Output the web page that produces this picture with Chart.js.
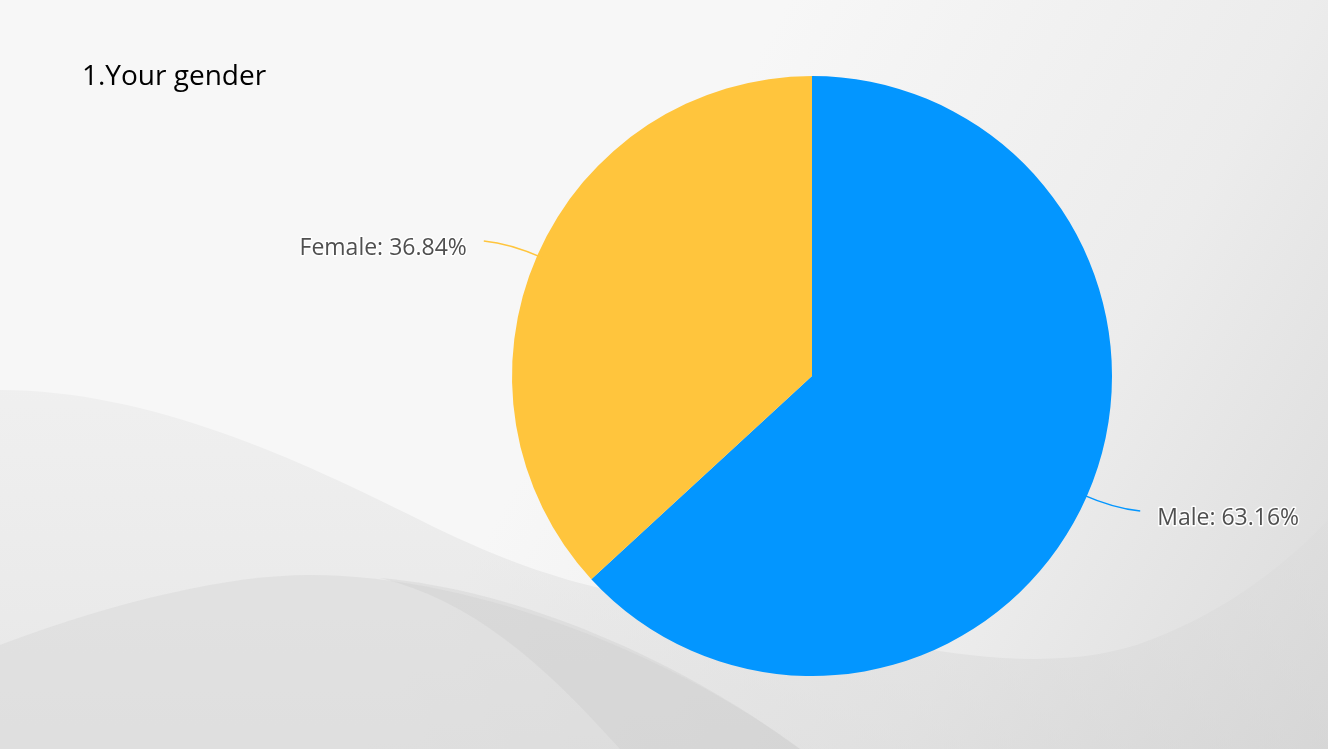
<!DOCTYPE html>
<html>
<head>
<meta charset="utf-8">
<script src="https://cdn.jsdelivr.net/npm/chart.js@4"></script>
<style>
  html, body { margin: 0; padding: 0; background: #f4f4f4; }
  #wrap { position: relative; width: 1328px; height: 749px; }
</style>
</head>
<body>
<div id="wrap"><canvas id="my_chart" width="1328" height="749"></canvas></div>
<script>
// Data
const categories = ['Male', 'Female'];
const counts = [12, 7];
const percentLabels = ['63.16%', '36.84%'];
const sliceColors = ['#0396ff', '#ffc53d'];
const chartTitle = '1.Your gender';

// Grey slide background with soft waves
const backgroundPlugin = {
  id: 'slideBackground',
  beforeDraw(chart) {
    const c = chart.ctx;
    const w = chart.width, h = chart.height;
    c.save();
    let g = c.createLinearGradient(0, 0, w, h);
    g.addColorStop(0, '#f7f7f7');
    g.addColorStop(0.45, '#f7f7f7');
    g.addColorStop(0.75, '#ececec');
    g.addColorStop(1, '#dadada');
    c.fillStyle = g;
    c.fillRect(0, 0, w, h);

    // lower wave
    c.beginPath();
    c.moveTo(0, 390);
    c.bezierCurveTo(150, 390, 300, 460, 420, 520);
    c.bezierCurveTo(560, 590, 640, 600, 760, 610);
    c.bezierCurveTo(900, 650, 1050, 680, 1150, 640);
    c.bezierCurveTo(1230, 610, 1290, 560, 1328, 520);
    c.lineTo(w, h);
    c.lineTo(0, h);
    c.closePath();
    g = c.createLinearGradient(0, 390, 0, h);
    g.addColorStop(0, 'rgba(225,225,225,0.35)');
    g.addColorStop(1, 'rgba(210,210,210,0.45)');
    c.fillStyle = g;
    c.fill();

    // bottom wave
    c.beginPath();
    c.moveTo(0, 645);
    c.bezierCurveTo(120, 600, 230, 575, 310, 575);
    c.bezierCurveTo(480, 575, 680, 660, 800, 749);
    c.lineTo(0, h);
    c.closePath();
    c.fillStyle = 'rgba(215,215,215,0.5)';
    c.fill();

    // inner fold
    c.beginPath();
    c.moveTo(380, 578);
    c.bezierCurveTo(470, 600, 540, 660, 620, 749);
    c.lineTo(800, 749);
    c.bezierCurveTo(680, 660, 520, 590, 380, 578);
    c.closePath();
    c.fillStyle = 'rgba(200,200,200,0.3)';
    c.fill();

    c.fillStyle = '#000';
    c.font = '28px "Open Sans", "Noto Sans", sans-serif';
    c.textBaseline = 'middle';
    c.textAlign = 'left';
    c.fillText(chartTitle, 82, 77);
    c.restore();
  }
};

// Outside labels with curved leader lines
const outsideLabels = {
  id: 'outsideLabels',
  afterDatasetsDraw(chart) {
    const c = chart.ctx;
    const meta = chart.getDatasetMeta(0);
    c.save();
    c.font = '23px "Open Sans", "Noto Sans", sans-serif';
    c.textBaseline = 'middle';
    meta.data.forEach((arc, i) => {
      const p = arc.getProps(['x', 'y', 'startAngle', 'endAngle', 'outerRadius'], true);
      const a = (p.startAngle + p.endAngle) / 2;
      const dx = Math.cos(a), dy = Math.sin(a);
      const side = dx >= 0 ? 1 : -1;
      const x0 = p.x + (p.outerRadius - 6) * dx, y0 = p.y + (p.outerRadius - 6) * dy;
      const cx = p.x + (p.outerRadius + 30) * dx, cy = p.y + (p.outerRadius + 30) * dy;
      const x1 = cx + side * 26, y1 = cy + dy * 6;
      c.strokeStyle = sliceColors[i];
      c.lineWidth = 1.5;
      c.beginPath();
      c.moveTo(x0, y0);
      c.quadraticCurveTo(cx, cy, x1, y1);
      c.stroke();
      const text = categories[i] + ': ' + percentLabels[i];
      c.textAlign = side > 0 ? 'left' : 'right';
      const tx = x1 + side * 17, ty = y1 + 7;
      c.lineWidth = 3;
      c.strokeStyle = 'rgba(255,255,255,0.9)';
      c.lineJoin = 'round';
      c.strokeText(text, tx, ty);
      c.fillStyle = '#505050';
      c.fillText(text, tx, ty);
    });
    c.restore();
  }
};

const ctx = document.getElementById('my_chart').getContext('2d');

const config = {
  type: 'pie',
  data: {
    labels: categories,
    datasets: [{
      data: counts,
      backgroundColor: sliceColors,
      borderWidth: 0
    }]
  },
  options: {
    responsive: false,
    animation: false,
    layout: {
      padding: { top: 76, bottom: 73, left: 500, right: 204 }
    },
    plugins: {
      legend: { display: false },
      tooltip: { enabled: false },
      title: { display: false }
    }
  },
  plugins: [backgroundPlugin, outsideLabels]
};

const myChart = new Chart(ctx, config);
</script>
</body>
</html>
